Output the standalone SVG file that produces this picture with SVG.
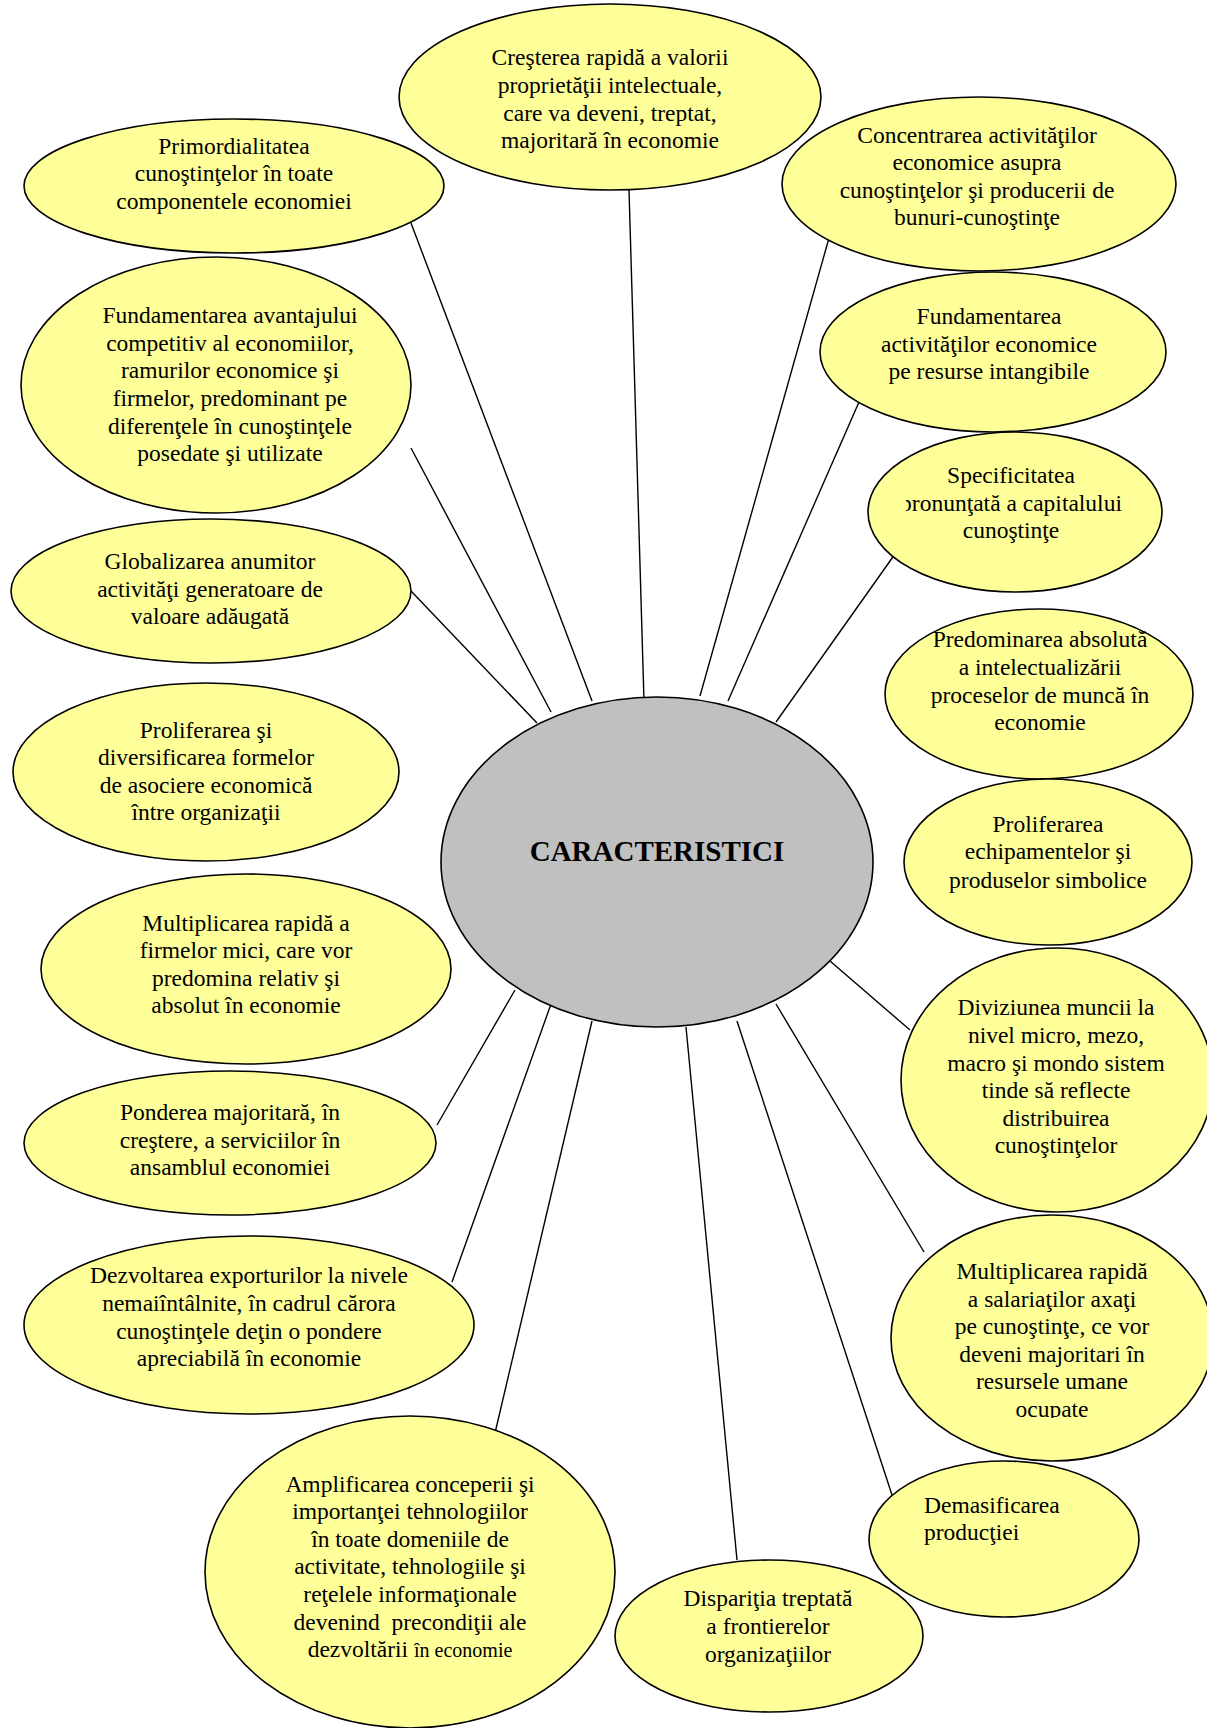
<svg xmlns="http://www.w3.org/2000/svg" width="1207" height="1728" viewBox="0 0 1207 1728">
<style>
.n{fill:#FFFF99;stroke:#000;stroke-width:1.6}
.c{fill:#C0C0C0;stroke:#000;stroke-width:1.6}
.t{font-family:"Liberation Serif","Times New Roman",serif;font-size:23.5px;fill:#000;text-anchor:middle}
.l{text-anchor:start}
.b{font-family:"Liberation Serif","Times New Roman",serif;font-size:29px;font-weight:bold;fill:#000;text-anchor:middle}
.s{font-size:20px}
#edges line{stroke:#000;stroke-width:1.4}
</style>
<defs>
<clipPath id="clipSpec"><rect x="906" y="440" width="260" height="120"/></clipPath>
<clipPath id="clipSal"><rect x="880" y="1240" width="330" height="178"/></clipPath>
</defs>
<rect width="1207" height="1728" fill="#fff"/>
<g id="edges">
<line x1="411" y1="223" x2="592" y2="701"/>
<line x1="411" y1="448" x2="551" y2="712"/>
<line x1="411" y1="591" x2="537" y2="723"/>
<line x1="629" y1="190" x2="644" y2="701"/>
<line x1="829" y1="238" x2="700" y2="696"/>
<line x1="859" y1="402" x2="728" y2="701"/>
<line x1="895" y1="554" x2="776" y2="722"/>
<line x1="830" y1="961" x2="910" y2="1030"/>
<line x1="776" y1="1004" x2="924" y2="1252"/>
<line x1="737" y1="1021" x2="892" y2="1495"/>
<line x1="686" y1="1027" x2="737" y2="1560"/>
<line x1="592" y1="1021" x2="495" y2="1433"/>
<line x1="551" y1="1004" x2="452" y2="1282"/>
<line x1="515" y1="990" x2="437" y2="1125"/>
</g>
<g id="center">
<ellipse class="c" cx="657" cy="862" rx="216" ry="165"/>
<text class="b" x="657" y="861">CARACTERISTICI</text>
</g>
<g id="n-crestere">
<ellipse class="n" cx="610" cy="97" rx="211" ry="93"/>
<text class="t" x="610" y="65">Creşterea rapidă a valorii</text>
<text class="t" x="610" y="93">proprietăţii intelectuale,</text>
<text class="t" x="610" y="121">care va deveni, treptat,</text>
<text class="t" x="610" y="148">majoritară în economie</text>
</g>
<g id="n-primordialitatea">
<ellipse class="n" cx="234" cy="186" rx="210" ry="67"/>
<text class="t" x="234" y="154">Primordialitatea</text>
<text class="t" x="234" y="181">cunoştinţelor în toate</text>
<text class="t" x="234" y="209">componentele economiei</text>
</g>
<g id="n-concentrarea">
<ellipse class="n" cx="979" cy="184" rx="197" ry="87"/>
<text class="t" x="977" y="143">Concentrarea activităţilor</text>
<text class="t" x="977" y="170">economice asupra</text>
<text class="t" x="977" y="198">cunoştinţelor şi producerii de</text>
<text class="t" x="977" y="225">bunuri-cunoştinţe</text>
</g>
<g id="n-fund-avantaj">
<ellipse class="n" cx="216" cy="385" rx="195" ry="128"/>
<text class="t" x="230" y="323">Fundamentarea avantajului</text>
<text class="t" x="230" y="351">competitiv al economiilor,</text>
<text class="t" x="230" y="378">ramurilor economice şi</text>
<text class="t" x="230" y="406">firmelor, predominant pe</text>
<text class="t" x="230" y="434">diferenţele în cunoştinţele</text>
<text class="t" x="230" y="461">posedate şi utilizate</text>
</g>
<g id="n-fund-activ">
<ellipse class="n" cx="993" cy="352" rx="173" ry="80"/>
<text class="t" x="989" y="324">Fundamentarea</text>
<text class="t" x="989" y="352">activităţilor economice</text>
<text class="t" x="989" y="379">pe resurse intangibile</text>
</g>
<g id="n-specificitatea">
<ellipse class="n" cx="1015" cy="512" rx="147" ry="80"/>
<text class="t" x="1011" y="483">Specificitatea</text>
<text class="t" x="1011" y="511" clip-path="url(#clipSpec)">pronunţată a capitalului</text>
<text class="t" x="1011" y="538">cunoştinţe</text>
</g>
<g id="n-globalizarea">
<ellipse class="n" cx="211" cy="591" rx="200" ry="72"/>
<text class="t" x="210" y="569">Globalizarea anumitor</text>
<text class="t" x="210" y="597">activităţi generatoare de</text>
<text class="t" x="210" y="624">valoare adăugată</text>
</g>
<g id="n-predominarea">
<ellipse class="n" cx="1039" cy="694" rx="154" ry="85"/>
<text class="t" x="1040" y="647">Predominarea absolută</text>
<text class="t" x="1040" y="675">a intelectualizării</text>
<text class="t" x="1040" y="703">proceselor de muncă în</text>
<text class="t" x="1040" y="730">economie</text>
</g>
<g id="n-prolif-asociere">
<ellipse class="n" cx="206" cy="772" rx="193" ry="89"/>
<text class="t" x="206" y="738">Proliferarea şi</text>
<text class="t" x="206" y="765">diversificarea formelor</text>
<text class="t" x="206" y="793">de asociere economică</text>
<text class="t" x="206" y="820">între organizaţii</text>
</g>
<g id="n-prolif-echip">
<ellipse class="n" cx="1048" cy="862" rx="144" ry="83"/>
<text class="t" x="1048" y="832">Proliferarea</text>
<text class="t" x="1048" y="859">echipamentelor şi</text>
<text class="t" x="1048" y="888">produselor simbolice</text>
</g>
<g id="n-firme-mici">
<ellipse class="n" cx="246" cy="969" rx="205" ry="95"/>
<text class="t" x="246" y="931">Multiplicarea rapidă a</text>
<text class="t" x="246" y="958">firmelor mici, care vor</text>
<text class="t" x="246" y="986">predomina relativ şi</text>
<text class="t" x="246" y="1013">absolut în economie</text>
</g>
<g id="n-diviziunea">
<ellipse class="n" cx="1057" cy="1080" rx="156" ry="132"/>
<text class="t" x="1056" y="1015">Diviziunea muncii la</text>
<text class="t" x="1056" y="1043">nivel micro, mezo,</text>
<text class="t" x="1056" y="1071">macro şi mondo sistem</text>
<text class="t" x="1056" y="1098">tinde să reflecte</text>
<text class="t" x="1056" y="1126">distribuirea</text>
<text class="t" x="1056" y="1153">cunoştinţelor</text>
</g>
<g id="n-ponderea">
<ellipse class="n" cx="230" cy="1143" rx="206" ry="72"/>
<text class="t" x="230" y="1120">Ponderea majoritară, în</text>
<text class="t" x="230" y="1148">creştere, a serviciilor în</text>
<text class="t" x="230" y="1175">ansamblul economiei</text>
</g>
<g id="n-dezvoltarea">
<ellipse class="n" cx="249" cy="1325" rx="225" ry="89"/>
<text class="t" x="249" y="1283">Dezvoltarea exporturilor la nivele</text>
<text class="t" x="249" y="1311">nemaiîntâlnite, în cadrul cărora</text>
<text class="t" x="249" y="1339">cunoştinţele deţin o pondere</text>
<text class="t" x="249" y="1366">apreciabilă în economie</text>
</g>
<g id="n-salariati">
<ellipse class="n" cx="1052" cy="1338" rx="161" ry="123"/>
<g clip-path="url(#clipSal)">
<text class="t" x="1052" y="1279">Multiplicarea rapidă</text>
<text class="t" x="1052" y="1307">a salariaţilor axaţi</text>
<text class="t" x="1052" y="1334">pe cunoştinţe, ce vor</text>
<text class="t" x="1052" y="1362">deveni majoritari în</text>
<text class="t" x="1052" y="1389">resursele umane</text>
<text class="t" x="1052" y="1417">ocupate</text>
</g>
</g>
<g id="n-demasificarea">
<ellipse class="n" cx="1004" cy="1539" rx="135" ry="78"/>
<text class="t l" x="924" y="1513">Demasificarea</text>
<text class="t l" x="924" y="1540">producţiei</text>
</g>
<g id="n-amplificarea">
<ellipse class="n" cx="410" cy="1572" rx="205" ry="156"/>
<text class="t" x="410" y="1492">Amplificarea conceperii şi</text>
<text class="t" x="410" y="1519">importanţei tehnologiilor</text>
<text class="t" x="410" y="1547">în toate domeniile de</text>
<text class="t" x="410" y="1574">activitate, tehnologiile şi</text>
<text class="t" x="410" y="1602">reţelele informaţionale</text>
<text class="t" x="410" y="1630" xml:space="preserve">devenind  precondiţii ale</text>
<text class="t" x="410" y="1657">dezvoltării <tspan class="s">în economie</tspan></text>
</g>
<g id="n-disparitia">
<ellipse class="n" cx="769" cy="1636" rx="154" ry="76"/>
<text class="t" x="768" y="1606">Dispariţia treptată</text>
<text class="t" x="768" y="1634">a frontierelor</text>
<text class="t" x="768" y="1662">organizaţiilor</text>
</g>
</svg>
